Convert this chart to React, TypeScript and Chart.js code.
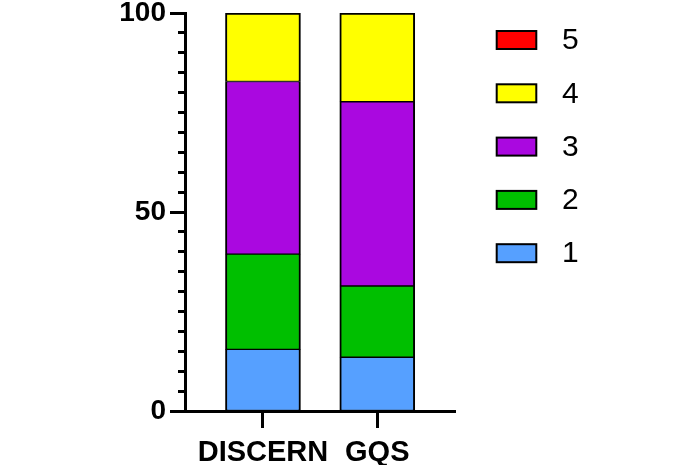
import React, { useEffect, useRef } from "react";
import { Chart, registerables } from "chart.js";

Chart.register(...registerables);

// ---- data ----
const categories = ["DISCERN", "GQS"];
const seriesLabels = ["1", "2", "3", "4", "5"];
const series1 = [15.5, 13.5];
const series2 = [23.9, 17.9];
const series3 = [43.4, 46.3];
const series4 = [17.2, 22.3];
const series5 = [0, 0];
const seriesColors = ["#56A0FF", "#00BF00", "#AA08E0", "#FFFF00", "#FF0000"];
const yMajorStep = 50;
const yMinorStep = 5;
const yMin = 0;
const yMax = 100;

const FONT = "'Liberation Sans', Arial, Helvetica, sans-serif";
const X_MIN = -0.682;
const X_MAX = 1.68;

const allSeries = [series1, series2, series3, series4, series5];

const sideLegend = {
  id: "sideLegend",
  afterDraw(chart: any) {
    const ctx = chart.ctx;
    const ds = [...chart.data.datasets].reverse();
    const x0 = 496.7;
    const y0 = 31;
    const step = 53.3;
    const bw = 39.6;
    const bh = 18;
    ctx.save();
    ctx.font = `30px ${FONT}`;
    ctx.textBaseline = "middle";
    ctx.textAlign = "left";
    ds.forEach((d: any, i: number) => {
      const y = y0 + i * step;
      ctx.fillStyle = d.backgroundColor;
      ctx.fillRect(x0, y, bw, bh);
      ctx.lineWidth = 2;
      ctx.strokeStyle = "#000";
      ctx.strokeRect(x0, y, bw, bh);
      ctx.fillStyle = "#000";
      ctx.fillText(d.label, 562, y + bh / 2 + 1);
    });
    ctx.restore();
  },
};

export default function App() {
  const ref = useRef<HTMLCanvasElement | null>(null);

  useEffect(() => {
    if (!ref.current) return;
    const datasets = allSeries.map((vals, si) => ({
      label: seriesLabels[si],
      data: vals.map((v, i) => ({ x: i, y: v })),
      backgroundColor: seriesColors[si],
      borderColor: "#000",
      borderWidth: { top: si === 3 ? 2 : 1, bottom: 1, left: 2, right: 2 },
      borderSkipped: false,
      barThickness: 75,
      stack: "s",
      yAxisID: "y",
      xAxisID: "x",
    }));

    const chart = new Chart(ref.current, {
      type: "bar",
      data: { datasets } as any,
      plugins: [sideLegend],
      options: {
        animation: false,
        responsive: false,
        devicePixelRatio: 1,
        layout: { padding: { left: 0, top: 13, right: 245, bottom: 0 } },
        plugins: {
          legend: { display: false },
          tooltip: { enabled: false },
        },
        scales: {
          x: {
            type: "linear",
            offset: false,
            min: X_MIN,
            max: X_MAX,
            afterBuildTicks: (s: any) => {
              s.ticks = categories.map((_, i) => ({ value: i }));
            },
            afterFit: (s: any) => {
              s.height = 54;
            },
            ticks: {
              callback: (v: any) => categories[v] ?? "",
              font: { family: FONT, size: 29, weight: "bold", lineHeight: 1 },
              color: "#000",
              padding: 10,
              maxRotation: 0,
              autoSkip: false,
            },
            grid: {
              offset: false,
              drawOnChartArea: false,
              tickLength: 17,
              tickWidth: 3,
              tickColor: "#000",
            },
            border: { display: true, color: "#000", width: 3 },
          },
          y: {
            type: "linear",
            position: "left",
            stacked: true,
            min: yMin,
            max: yMax,
            afterFit: (s: any) => {
              s.width = 185;
            },
            ticks: {
              stepSize: yMajorStep,
              font: { family: FONT, size: 28, weight: "bold", lineHeight: 0.5 },
              color: "#000",
              padding: 4,
            },
            grid: {
              drawOnChartArea: false,
              tickLength: 15,
              tickWidth: 3,
              tickColor: "#000",
            },
            border: { display: true, color: "#000", width: 3 },
          },
          yMinor: {
            type: "linear",
            position: { x: X_MIN },
            min: yMin,
            max: yMax,
            ticks: { display: false, stepSize: yMinorStep },
            grid: {
              drawOnChartArea: false,
              tickLength: 7,
              tickWidth: 3,
              tickColor: "#000",
            },
            border: { display: false },
          },
        },
      } as any,
    });
    return () => chart.destroy();
  }, []);

  return (
    <div style={{ position: "absolute", left: 0, top: 0, width: 700, height: 465, background: "#fff" }}>
      <canvas ref={ref} width={700} height={465} />
    </div>
  );
}
